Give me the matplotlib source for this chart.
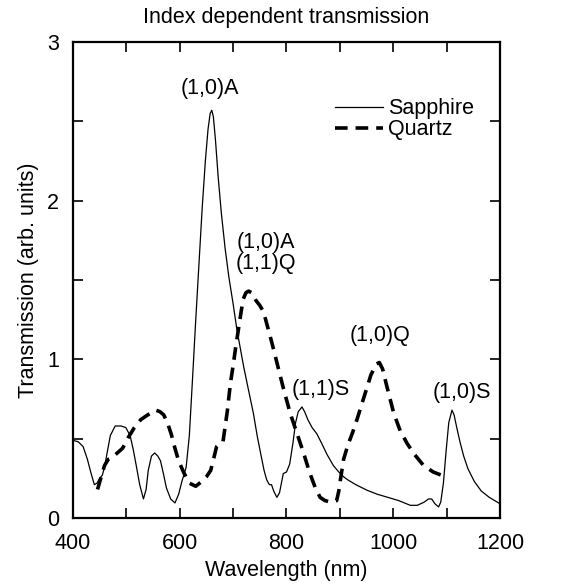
import matplotlib.pyplot as plt
import numpy as np

plt.rcParams['font.family'] = ['Liberation Sans', 'DejaVu Sans']

# Sapphire (solid)
sap_x = [400, 410, 419, 427, 434, 440, 445, 450, 455, 459, 465, 470, 479, 490, 499,
         507, 513, 518, 525, 532, 537, 541, 547, 553, 559, 564, 570, 575, 583, 591,
         598, 604, 612, 618, 624, 630, 636, 642, 648, 653, 657, 660, 663, 667, 672,
         678, 685, 692, 700, 707, 714, 720, 728, 738, 745, 752, 758, 763, 768, 772,
         776, 782, 787, 794, 800, 806, 812, 817, 822, 829, 834, 840, 848, 857, 866,
         876, 888, 898, 907, 915, 930, 951, 970, 990, 1010, 1032, 1045, 1058, 1066,
         1072, 1078, 1085, 1089, 1094, 1099, 1104, 1110, 1114, 1119, 1125, 1132,
         1140, 1152, 1165, 1180, 1200]
sap_y = [0.49, 0.48, 0.45, 0.37, 0.28, 0.21, 0.22, 0.25, 0.27, 0.32, 0.43, 0.52, 0.58,
         0.58, 0.57, 0.52, 0.43, 0.34, 0.21, 0.12, 0.18, 0.30, 0.39, 0.41, 0.39, 0.36,
         0.27, 0.19, 0.12, 0.095, 0.15, 0.23, 0.32, 0.52, 0.88, 1.25, 1.60, 1.95, 2.25,
         2.45, 2.55, 2.57, 2.53, 2.38, 2.15, 1.92, 1.70, 1.52, 1.35, 1.19, 1.06, 0.95,
         0.82, 0.66, 0.52, 0.40, 0.30, 0.24, 0.21, 0.21, 0.17, 0.13, 0.16, 0.28, 0.29,
         0.34, 0.47, 0.60, 0.67, 0.70, 0.67, 0.62, 0.57, 0.53, 0.47, 0.40, 0.33, 0.29,
         0.26, 0.24, 0.21, 0.175, 0.15, 0.13, 0.11, 0.08, 0.08, 0.10, 0.12, 0.12, 0.09,
         0.07, 0.10, 0.22, 0.42, 0.60, 0.68, 0.65, 0.57, 0.48, 0.39, 0.31, 0.23, 0.17,
         0.13, 0.09]

# Quartz (dashed)
qtz_x = [446, 452, 459, 466, 473, 483, 493, 504, 515, 527, 540, 555, 563, 570, 577,
         584, 591, 598, 607, 618, 630, 641, 650, 658, 664, 669, 675, 681, 689, 695,
         700, 705, 710, 715, 719, 724, 729, 735, 743, 750, 757, 765, 773, 782, 794,
         807, 820, 832, 843, 854, 863, 872, 883, 894, 898, 901, 907, 915, 924, 932,
         945, 958, 968, 974, 980, 988, 1001, 1013, 1026, 1040, 1057, 1075, 1090, 1101]
qtz_y = [0.18, 0.25, 0.33, 0.37, 0.38, 0.41, 0.44, 0.51, 0.57, 0.62, 0.65, 0.68, 0.67,
         0.65, 0.60, 0.53, 0.44, 0.36, 0.29, 0.22, 0.20, 0.23, 0.26, 0.30, 0.38, 0.45,
         0.47, 0.48, 0.67, 0.85, 0.96, 1.08, 1.19, 1.30, 1.38, 1.42, 1.43, 1.42, 1.37,
         1.34, 1.30, 1.20, 1.10, 0.98, 0.82, 0.66, 0.53, 0.41, 0.29, 0.19, 0.13, 0.11,
         0.10, 0.11, 0.17, 0.24, 0.37, 0.46, 0.54, 0.62, 0.76, 0.90, 0.97, 0.98, 0.94,
         0.83, 0.66, 0.55, 0.47, 0.40, 0.33, 0.29, 0.27, 0.27]

# peak labels
lab_text = ['(1,0)A', '(1,0)A\n(1,1)Q', '(1,1)S', '(1,0)Q', '(1,0)S']
lab_x = [657, 761, 864, 976, 1129]
lab_y = [2.71, 1.67, 0.81, 1.15, 0.79]

fs = 15.5

fig = plt.figure(figsize=(5.72, 5.84), dpi=100)
ax = fig.add_axes([0.1276, 0.113, 0.7465, 0.815])

ax.plot(sap_x, sap_y, color='black', lw=0.9, label='Sapphire')
ax.plot(qtz_x, qtz_y, color='black', lw=2.6, linestyle=(0, (3.5, 2.2)), label='Quartz')

for t, x, y in zip(lab_text, lab_x, lab_y):
    ax.text(x, y, t, ha='center', va='center', fontsize=fs, linespacing=1.0)

ax.set_xlim(400, 1200)
ax.set_ylim(0, 3)
ax.set_xticks([400, 600, 800, 1000, 1200])
ax.set_xticks(np.arange(500, 1200, 200), minor=True)
ax.set_yticks([0, 1, 2, 3])
ax.set_yticks([0.5, 1.5, 2.5], minor=True)
ax.tick_params(which='both', direction='in', top=True, right=True, length=7, width=1.2,
               labelsize=fs)
ax.tick_params(axis='x', pad=11)
ax.tick_params(axis='y', pad=10)
for s in ax.spines.values():
    s.set_linewidth(1.6)

ax.set_xlabel('Wavelength (nm)', fontsize=fs, labelpad=4)
ax.set_ylabel('Transmission (arb. units)', fontsize=fs, labelpad=6)
ax.set_title('Index dependent transmission', fontsize=fs, pad=14)

ax.legend(loc='upper left', bbox_to_anchor=(0.614, 0.882), frameon=False, fontsize=fs,
          handlelength=2.2, handletextpad=0.25, borderpad=0, borderaxespad=0,
          labelspacing=0.0)

fig.savefig('out.png', dpi=100)
